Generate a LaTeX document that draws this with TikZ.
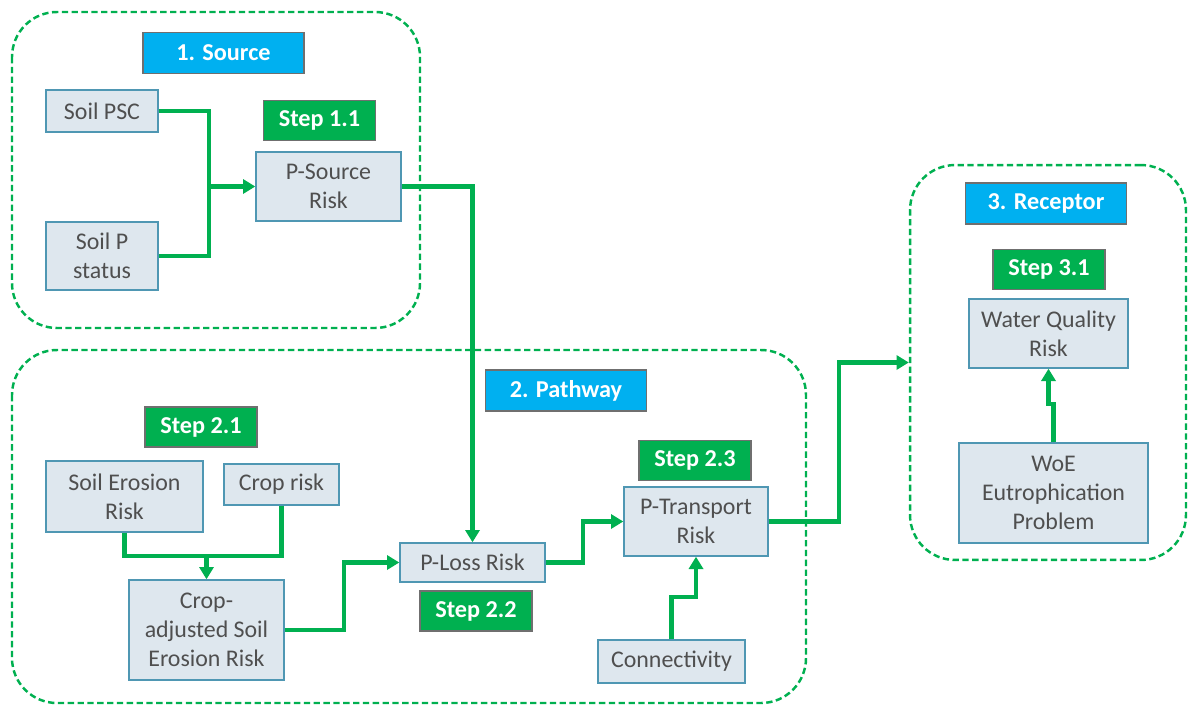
\documentclass[tikz,border=0pt]{standalone}
\usepackage{fontspec}
\setmainfont{Carlito}
\usetikzlibrary{arrows.meta}
\definecolor{flowgreen}{HTML}{00B050}
\definecolor{stepgreen}{HTML}{00B050}
\definecolor{headblue}{HTML}{00B0F0}
\definecolor{boxfill}{HTML}{DEE7EE}
\definecolor{boxline}{HTML}{4F97B3}
\definecolor{textgray}{HTML}{4F4F4F}
\definecolor{labline}{HTML}{6F6F6F}
\tikzset{
  group/.style={draw=flowgreen, line width=1.4pt, dash pattern=on 3.6pt off 2pt,
    rounded corners=0.9cm},
  riskbox/.style={draw=boxline, fill=boxfill, line width=0.8pt, text=textgray,
    align=center, font=\fontsize{13.6}{16.4}\selectfont, inner sep=2pt},
  stepbox/.style={draw=labline, fill=stepgreen, line width=0.8pt, text=white,
    font=\fontsize{13.8}{16}\selectfont\bfseries, minimum width=2.24cm, minimum height=0.8cm},
  headbox/.style={draw=labline, fill=headblue, line width=0.8pt, text=white,
    font=\fontsize{13.8}{16}\selectfont\bfseries, minimum width=3.22cm, minimum height=0.82cm},
  flow/.style={draw=flowgreen, line width=2.3pt},
  flowto/.style={flow, -{Triangle[length=7pt,width=8pt]}}
}
\begin{document}
\begin{tikzpicture}[x=0.02cm,y=-0.02cm]
\useasboundingbox (0,0) rectangle (1192,707);
% containers
\draw[group] (12,12) rectangle (420,328);
\draw[group] (12,350) rectangle (806,703);
\node[group, minimum width=5.52cm, minimum height=7.9cm] (rgroup) at (1048,362.5) {};
% 1. source
\node[headbox] (hsrc) at (223.5,53) {1. Source};
\node[riskbox, minimum width=2.24cm, minimum height=0.84cm] (psc) at (102,111) {Soil PSC};
\node[riskbox, minimum width=2.24cm, minimum height=1.36cm] (pst) at (102,256) {Soil P\\status};
\node[stepbox] (s11) at (319.5,120.5) {Step 1.1};
\node[riskbox, minimum width=2.9cm, minimum height=1.38cm] (psrc) at (328.5,186.5) {P-Source\\Risk};
% 2. pathway
\node[headbox] (hpath) at (566,390.5) {2. Pathway};
\node[stepbox] (s21) at (201,427) {Step 2.1};
\node[riskbox, minimum width=3.14cm, minimum height=1.42cm] (ser) at (124.5,496.5) {Soil Erosion\\Risk};
\node[riskbox, minimum width=2.3cm, minimum height=0.82cm] (crop) at (281.5,484.5) {Crop risk};
\node[riskbox, minimum width=3.1cm, minimum height=2cm] (cadj) at (206.5,630) {Crop-\\adjusted Soil\\Erosion Risk};
\node[riskbox, minimum width=2.9cm, minimum height=0.78cm] (ploss) at (472.5,562.5) {P-Loss Risk};
\node[stepbox] (s22) at (476,611) {Step 2.2};
\node[stepbox] (s23) at (695,460.5) {Step 2.3};
\node[riskbox, minimum width=2.88cm, minimum height=1.38cm] (ptrans) at (696,521.5) {P-Transport\\Risk};
\node[riskbox, minimum width=2.94cm, minimum height=0.86cm] (conn) at (671.5,661.5) {Connectivity};
% 3. receptor
\node[headbox] (hrec) at (1046,203.5) {3. Receptor};
\node[stepbox] (s31) at (1049,269.5) {Step 3.1};
\node[riskbox, minimum width=3.18cm, minimum height=1.38cm] (wqr) at (1048.5,333.5) {Water Quality\\Risk};
\node[riskbox, minimum width=3.78cm, minimum height=2cm] (woe) at (1053.5,493) {WoE\\Eutrophication\\Problem};
% connectors
\coordinate (j1) at (209,186.5);
\coordinate (j2) at (206.5,556);
\draw[flow] (psc.east) -| (j1);
\draw[flow] (pst.east) -| (j1);
\draw[flowto] (j1) -- (psrc.west);
\draw[flowto] (psrc.east) -| (ploss.north);
\draw[flow] (ser.south) |- (j2);
\draw[flow] (crop.south) |- (j2);
\draw[flowto] (j2) -- (cadj.north);
\draw[flowto] (cadj.east) -- ++(59,0) |- (ploss.west);
\draw[flowto] (ploss.east) -- ++(37,0) |- (ptrans.west);
\draw[flowto] (conn.north) -- ++(0,-42) -| (ptrans.south);
\draw[flowto] (ptrans.east) -- ++(70,0) |- (rgroup.west);
\draw[flowto] (woe.north) -- ++(0,-38) -| (wqr.south);
\end{tikzpicture}
\end{document}
